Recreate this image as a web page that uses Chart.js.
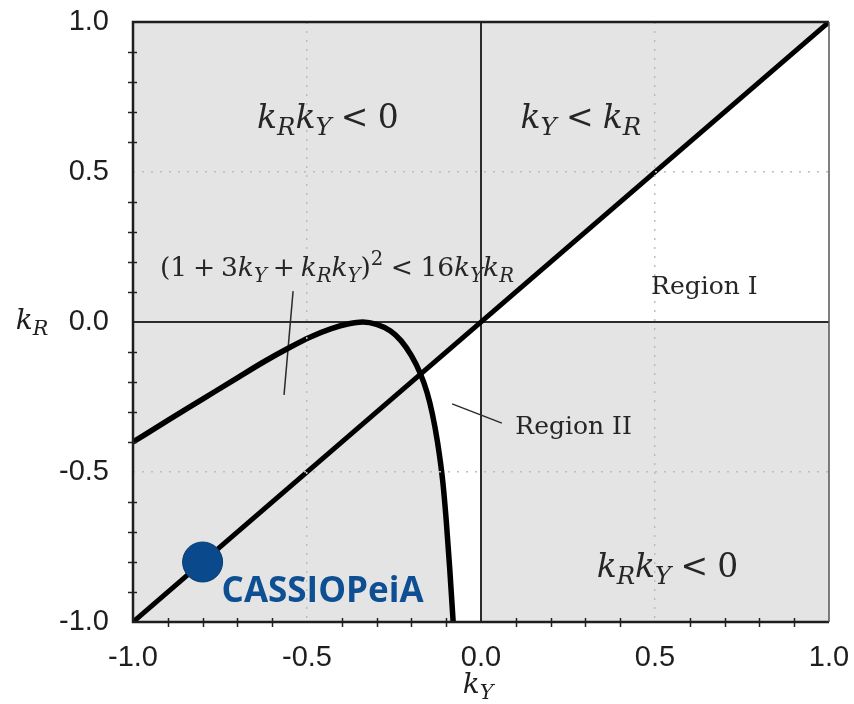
<!DOCTYPE html>
<html lang="pt-BR">
<head>
<meta charset="UTF-8">
<title>kY x kR</title>
<style>
    html, body { margin: 0; padding: 0; background: #fff; }
    canvas { display: block; }
</style>
</head>
<body>
<canvas id="grafico" width="854" height="704"></canvas>

<script src="https://cdn.jsdelivr.net/npm/chart.js"></script>
<script>
    // curva (1 + 3kY + kR kY)^2 = 16 kY kR
    const curvaKY = [-1.00, -0.90, -0.80, -0.70, -0.62, -0.55, -0.49, -0.43, -0.38, -0.34, -0.30,
        -0.26, -0.23, -0.20, -0.175, -0.155, -0.14, -0.125, -0.11, -0.10, -0.09, -0.08];
    const curvaKR = [-0.40, -0.328, -0.257, -0.186, -0.13, -0.085, -0.05, -0.022, -0.006, 0.0, -0.008,
        -0.03, -0.062, -0.112, -0.17, -0.235, -0.305, -0.40, -0.53, -0.66, -0.82, -1.00];

    // reta kY = kR
    const diagonalKY = [-1, 1];
    const diagonalKR = [-1, 1];

    // ponto CASSIOPeiA
    const cassiopeiaKY = [-0.8];
    const cassiopeiaKR = [-0.8];

    // tracinhos que ligam os textos às regiões
    const setaFormulaKY = [-0.540, -0.566];
    const setaFormulaKR = [0.103, -0.243];
    const setaRegiao2KY = [-0.083, 0.060];
    const setaRegiao2KR = [-0.273, -0.337];

    // marcas dos eixos (com rótulo) e passo das marcas menores
    const marcasEixo = [-1.0, -0.5, 0.0, 0.5, 1.0];
    const passoMenor = 0.1;

    function pontos(xs, ys) {
        return xs.map((x, i) => ({ x: x, y: ys[i] }));
    }

    function ehMarca(valor) {
        return marcasEixo.some(m => Math.abs(m - valor) < 1e-6);
    }

    // Region II: abaixo da diagonal, entre a curva e kY = 0
    function poligonoRegiao2() {
        for (let i = 1; i < curvaKY.length; i++) {
            const d0 = curvaKR[i - 1] - curvaKY[i - 1];
            const d1 = curvaKR[i] - curvaKY[i];
            if (d0 >= 0 && d1 < 0) {
                const t = d0 / (d0 - d1);
                const cx = curvaKY[i - 1] + t * (curvaKY[i] - curvaKY[i - 1]);
                const cy = curvaKR[i - 1] + t * (curvaKR[i] - curvaKR[i - 1]);
                const lista = [{ x: cx, y: cy }, { x: 0, y: 0 }, { x: 0, y: -1 }];
                for (let j = curvaKY.length - 1; j >= i; j--) {
                    lista.push({ x: curvaKY[j], y: curvaKR[j] });
                }
                lista.push({ x: cx, y: cy });
                return lista;
            }
        }
        return [];
    }

    // Region I: 0 < kR < kY
    const poligonoRegiao1 = [{ x: 0, y: 0 }, { x: 1, y: 1 }, { x: 1, y: 0 }, { x: 0, y: 0 }];

    // fundo cinza da área do gráfico
    const fundoCinza = {
        id: 'fundoCinza',
        beforeDraw(chart) {
            const { ctx, chartArea: a } = chart;
            ctx.save();
            ctx.fillStyle = '#e4e4e4';
            ctx.fillRect(a.left, a.top, a.right - a.left, a.bottom - a.top);
            ctx.restore();
        }
    };

    // texto matemático simples: letras em itálico, _ subscrito, ^ sobrescrito
    function pedacosMat(expr) {
        const pedacos = [];
        for (let i = 0; i < expr.length; i++) {
            const c = expr[i];
            if (c === ' ') continue;
            if (c === '_' || c === '^') {
                const n = expr[++i];
                pedacos.push({ t: n, italico: /[A-Za-z]/.test(n), nivel: c === '_' ? -1 : 1 });
            } else if (c === '<') {
                pedacos.push({ t: c, esp: 0.28, nivel: 0 });
            } else if (c === '+') {
                pedacos.push({ t: c, esp: 0.22, nivel: 0 });
            } else {
                pedacos.push({ t: c, italico: /[A-Za-z]/.test(c), nivel: 0 });
            }
        }
        return pedacos;
    }

    function desenharMat(ctx, expr, x, y, tam) {
        const pedacos = pedacosMat(expr);
        const fonte = p => (p.italico ? 'italic ' : '') + (p.nivel ? tam * 0.74 : tam) + 'px "DejaVu Serif"';
        let largura = 0;
        pedacos.forEach(p => {
            ctx.font = fonte(p);
            p.w = ctx.measureText(p.t).width + 2 * (p.esp || 0) * tam;
            largura += p.w;
        });
        let cx = x - largura / 2;
        pedacos.forEach(p => {
            ctx.font = fonte(p);
            const dy = p.nivel === -1 ? tam * 0.22 : (p.nivel === 1 ? -tam * 0.42 : 0);
            ctx.fillText(p.t, cx + (p.esp || 0) * tam, y + dy);
            cx += p.w;
        });
    }

    const rotulosMat = [
        { texto: 'k_Rk_Y < 0', kY: -0.44, kR: 0.647, tam: 33 },
        { texto: 'k_Y < k_R', kY: 0.287, kR: 0.647, tam: 33 },
        { texto: '(1 + 3k_Y + k_Rk_Y)^2 < 16k_Yk_R', kY: -0.414, kR: 0.153, tam: 26.5 },
        { texto: 'k_Rk_Y < 0', kY: 0.536, kR: -0.85, tam: 33 }
    ];
    const rotulosRegiao = [
        { texto: 'Region I', kY: 0.642, kR: 0.093 },
        { texto: 'Region II', kY: 0.266, kR: -0.373 }
    ];

    const textos = {
        id: 'textos',
        afterDraw(chart) {
            const { ctx, chartArea: a, scales: { x, y } } = chart;
            ctx.save();

            // marcas menores, cruzando os eixos da esquerda e de baixo
            ctx.strokeStyle = '#222';
            ctx.lineWidth = 1.5;
            ctx.beginPath();
            x.ticks.forEach(t => {
                if (ehMarca(t.value)) return;
                const px = Math.round(x.getPixelForValue(t.value)) + 0.5;
                ctx.moveTo(px, a.bottom - 4);
                ctx.lineTo(px, a.bottom + 5);
            });
            y.ticks.forEach(t => {
                if (ehMarca(t.value)) return;
                const py = Math.round(y.getPixelForValue(t.value)) + 0.5;
                ctx.moveTo(a.left - 5, py);
                ctx.lineTo(a.left + 4, py);
            });
            ctx.stroke();

            // moldura
            ctx.strokeStyle = '#1e1e1e';
            ctx.lineWidth = 2.5;
            ctx.beginPath();
            ctx.moveTo(a.right, a.top);
            ctx.lineTo(a.left, a.top);
            ctx.lineTo(a.left, a.bottom);
            ctx.lineTo(a.right, a.bottom);
            ctx.stroke();
            ctx.strokeStyle = '#555';
            ctx.lineWidth = 1.5;
            ctx.beginPath();
            ctx.moveTo(a.right, a.top);
            ctx.lineTo(a.right, a.bottom);
            ctx.stroke();

            ctx.fillStyle = '#262626';
            ctx.textBaseline = 'alphabetic';
            ctx.textAlign = 'left';
            rotulosMat.forEach(r => {
                desenharMat(ctx, r.texto, x.getPixelForValue(r.kY), y.getPixelForValue(r.kR), r.tam);
            });

            ctx.textAlign = 'center';
            ctx.font = '25px "DejaVu Serif"';
            rotulosRegiao.forEach(r => {
                ctx.fillText(r.texto, x.getPixelForValue(r.kY), y.getPixelForValue(r.kR));
            });
            ctx.textAlign = 'left';

            // títulos dos eixos
            ctx.fillStyle = '#1e1e1e';
            desenharMat(ctx, 'k_Y', x.getPixelForValue(0) - 3, 693, 28);
            desenharMat(ctx, 'k_R', 32, 329, 28);

            // nome do ponto
            const px = x.getPixelForValue(cassiopeiaKY[0]);
            const py = y.getPixelForValue(cassiopeiaKR[0]);
            ctx.fillStyle = '#0d4f92';
            ctx.font = 'bold 35px "Open Sans"';
            ctx.fillText('CASSIOPeiA', px + 19, py + 40);

            ctx.restore();
        }
    };

    // tira o espaço extra que a escala reserva para os rótulos
    function semFolga(escala) {
        escala.paddingTop = 0;
        escala.paddingBottom = 0;
        escala.paddingLeft = 0;
        escala.paddingRight = 0;
    }

    const corGrade = c => (c.tick && Math.abs(Math.abs(c.tick.value) - 0.5) < 1e-6) ? '#bdbdbd' : 'rgba(0,0,0,0)';

    const linhaFina = { pointRadius: 0, borderColor: '#2b2b2b', tension: 0, fill: false };

    const ctx = document.getElementById('grafico');

    new Chart(ctx, {
        type: 'line',
        data: {
            datasets: [
                {
                    label: 'CASSIOPeiA',
                    data: pontos(cassiopeiaKY, cassiopeiaKR),
                    showLine: false,
                    pointRadius: 20,
                    pointBackgroundColor: '#0a4a8c',
                    pointBorderColor: '#073a70',
                    pointBorderWidth: 1,
                    order: 0
                },
                {
                    label: 'curva',
                    data: pontos(curvaKY, curvaKR),
                    borderColor: '#000',
                    borderWidth: 5.5,
                    pointRadius: 0,
                    cubicInterpolationMode: 'monotone',
                    fill: false,
                    order: 1
                },
                {
                    label: 'kY = kR',
                    data: pontos(diagonalKY, diagonalKR),
                    borderColor: '#000',
                    borderWidth: 5,
                    pointRadius: 0,
                    fill: false,
                    order: 1
                },
                Object.assign({ label: 'kR = 0', data: [{ x: -1, y: 0 }, { x: 1, y: 0 }], borderWidth: 2, order: 2 }, linhaFina),
                Object.assign({ label: 'kY = 0', data: [{ x: 0, y: -1 }, { x: 0, y: 1 }], borderWidth: 2, order: 2 }, linhaFina),
                Object.assign({ label: 'seta fórmula', data: pontos(setaFormulaKY, setaFormulaKR), borderWidth: 1.5, order: 2 }, linhaFina),
                Object.assign({ label: 'seta Region II', data: pontos(setaRegiao2KY, setaRegiao2KR), borderWidth: 1.5, order: 2 }, linhaFina),
                {
                    label: 'Region I',
                    data: poligonoRegiao1,
                    fill: 'shape',
                    backgroundColor: '#ffffff',
                    borderWidth: 0,
                    pointRadius: 0,
                    tension: 0,
                    order: 3
                },
                {
                    label: 'Region II',
                    data: poligonoRegiao2(),
                    fill: 'shape',
                    backgroundColor: '#ffffff',
                    borderWidth: 0,
                    pointRadius: 0,
                    tension: 0,
                    order: 3
                }
            ]
        },
        options: {
            responsive: false,
            animation: false,
            devicePixelRatio: 1,
            layout: { padding: { left: 0, top: 22, right: 25, bottom: 0 } },
            plugins: {
                legend: { display: false },
                tooltip: { enabled: false }
            },
            scales: {
                x: {
                    type: 'linear',
                    min: -1,
                    max: 1,
                    afterFit: escala => { escala.height = 82; semFolga(escala); },
                    ticks: {
                        stepSize: passoMenor,
                        autoSkip: false,
                        maxRotation: 0,
                        padding: 19,
                        color: '#1e1e1e',
                        font: { family: 'Liberation Sans', size: 29 },
                        callback: v => ehMarca(v) ? v.toFixed(1) : ''
                    },
                    grid: { z: 1, drawTicks: false, lineWidth: 1.5, color: corGrade },
                    border: { display: false, dash: [2, 7] }
                },
                y: {
                    type: 'linear',
                    min: -1,
                    max: 1,
                    afterFit: escala => { escala.width = 133; semFolga(escala); },
                    ticks: {
                        stepSize: passoMenor,
                        autoSkip: false,
                        padding: 24,
                        color: '#1e1e1e',
                        font: { family: 'Liberation Sans', size: 29 },
                        callback: v => ehMarca(v) ? v.toFixed(1) : ''
                    },
                    grid: { z: 1, drawTicks: false, lineWidth: 1.5, color: corGrade },
                    border: { display: false, dash: [2, 7] }
                }
            }
        },
        plugins: [fundoCinza, textos]
    });
</script>
</body>
</html>
